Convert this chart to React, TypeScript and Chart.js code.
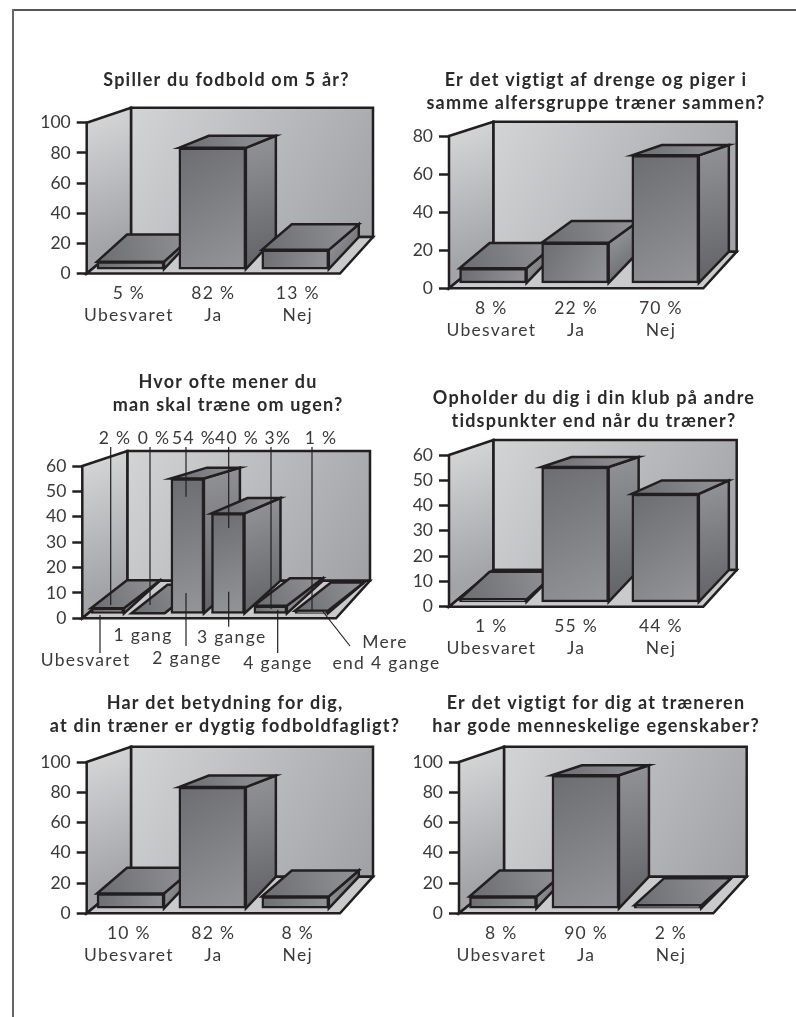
import React, { useEffect, useRef } from "react";
import { Chart, registerables } from "chart.js";

Chart.register(...registerables);

// ---------- data ----------
const threeCategories = ["Ubesvaret", "Ja", "Nej"];
const trainingCategories = ["Ubesvaret", "1 gang", "2 gange", "3 gange", "4 gange", "Mere end 4 gange"];

const footballValues = [5, 82, 13];
const footballPercents = ["5 %", "82 %", "13 %"];
const mixedValues = [8, 22, 70];
const mixedPercents = ["8 %", "22 %", "70 %"];
const trainingValues = [2, 0, 54, 40, 3, 1];
const trainingPercents = ["2 %", "0 %", "54 %", "40 %", "3%", "1 %"];
const clubValues = [1, 55, 44];
const clubPercents = ["1 %", "55 %", "44 %"];
const skillValues = [10, 82, 8];
const skillPercents = ["10 %", "82 %", "8 %"];
const humanValues = [8, 90, 2];
const humanPercents = ["8 %", "90 %", "2 %"];

const title1 = ["Spiller du fodbold om 5 år?"];
const title2 = ["Er det vigtigt af drenge og piger i", "samme alfersgruppe træner sammen?"];
const title3 = ["Hvor ofte mener du", "man skal træne om ugen?"];
const title4 = ["Opholder du dig i din klub på andre", "tidspunkter end når du træner?"];
const title5 = ["Har det betydning for dig,", "at din træner er dygtig fodboldfagligt?"];
const title6 = ["Er det vigtigt for dig at træneren", "har gode menneskelige egenskaber?"];

// ---------- style ----------
const INK = "#231f20";
const TEXT = "#3a3a3c";
const LABEL_FONT = { family: "Lato", size: 17.5, weight: "400" as const, lineHeight: "22px" };
const LABEL_SPACING = "1.3px";
const TITLE_SPACING = "1.2px";
const LINE = 2.5;

type Spec = {
  title: string[]; categories: string[]; values: number[]; percents: string[];
  left: number; width: number; top: number; bottom: number; titleTop: number;
  L: number; floorRight: number; backX: number; backRight: number;
  axisTop: number; zero: number; backTop: number; backBottom: number;
  yMax: number; yStep: number; barsMin: number; barsMax: number;
  barWidth: number; depth: number; nudge: number[]; labelPad: number; callouts?: boolean;
};

const specs: Spec[] = [
  { title: title1, categories: threeCategories, values: footballValues, percents: footballPercents,
    left: 14, width: 425, top: 50, bottom: 350, titleTop: 68.5,
    L: 86.7, floorRight: 340, backX: 131, backRight: 373, axisTop: 122.7, zero: 273.5, backTop: 107.7, backBottom: 237,
    yMax: 100, yStep: 20, barsMin: -3, barsMax: 99, barWidth: 67, depth: 30, nudge: [1.6, -1, -2.5], labelPad: 9 },
  { title: title2, categories: threeCategories, values: mixedValues, percents: mixedPercents,
    left: 396, width: 400, top: 50, bottom: 350, titleTop: 68.5,
    L: 449, floorRight: 703.3, backX: 493.3, backRight: 736.7, axisTop: 136, zero: 288.3, backTop: 121.7, backBottom: 251.7,
    yMax: 80, yStep: 20, barsMin: -3, barsMax: 80.6, barWidth: 67, depth: 30, nudge: [1.7, -1, 4.4], labelPad: 9 },
  { title: title3, categories: trainingCategories, values: trainingValues, percents: trainingPercents,
    left: 14, width: 428, top: 360, bottom: 690, titleTop: 370.5,
    L: 82.3, floorRight: 336, backX: 127.3, backRight: 370, axisTop: 466, zero: 618.3, backTop: 451, backBottom: 580.7,
    yMax: 60, yStep: 10, barsMin: -2, barsMax: 59, barWidth: 33, depth: 36, nudge: [4, 2.3, -0.6, -2.3, -2.2, -3.4], labelPad: 9, callouts: true },
  { title: title4, categories: threeCategories, values: clubValues, percents: clubPercents,
    left: 396, width: 396, top: 370, bottom: 670, titleTop: 386.5,
    L: 449, floorRight: 703.3, backX: 493.3, backRight: 736.7, axisTop: 455, zero: 606.7, backTop: 440, backBottom: 570,
    yMax: 60, yStep: 10, barsMin: -2, barsMax: 59.9, barWidth: 67, depth: 30, nudge: [1.7, -1, 4.4], labelPad: 9 },
  { title: title5, categories: threeCategories, values: skillValues, percents: skillPercents,
    left: 14, width: 422, top: 680, bottom: 985, titleTop: 691.5,
    L: 86.7, floorRight: 340, backX: 131, backRight: 373, axisTop: 762, zero: 913.3, backTop: 746.7, backBottom: 876.7,
    yMax: 100, yStep: 20, barsMin: -3.4, barsMax: 99, barWidth: 67, depth: 30, nudge: [1.6, -1, -2.5], labelPad: 9 },
  { title: title6, categories: threeCategories, values: humanValues, percents: humanPercents,
    left: 396, width: 400, top: 680, bottom: 985, titleTop: 691.5,
    L: 459, floorRight: 713.3, backX: 504, backRight: 746.7, axisTop: 762, zero: 913.3, backTop: 746.7, backBottom: 876.7,
    yMax: 100, yStep: 20, barsMin: -3.4, barsMax: 99, barWidth: 67, depth: 30, nudge: [1.6, -0.7, -3.2], labelPad: 9 },
];

// Callout layout of the training chart, in page pixels
const calloutTopY = 438;
const calloutTopX = [115, 154, 194, 237, 278, 321];
const leaderSegments: number[][] = [
  [110.7, 447, 110.7, 605], [150, 447, 150, 605],
  [186, 447, 186, 496.7], [186, 593, 186, 646],
  [228.7, 447, 228.7, 528], [228.7, 591.7, 228.7, 626.7],
  [271, 447, 271, 609], [312, 447, 312, 610],
  [100, 615, 100, 653], [277.7, 610, 277.7, 653],
  [321.7, 610, 350, 646],
];
const bottomLabels: [string, number, number][] = [
  ["Ubesvaret", 85.7, 660], ["1 gang", 143, 635], ["2 gange", 187, 658],
  ["3 gange", 231.7, 637], ["4 gange", 278, 663], ["Mere", 385, 642], ["end 4 gange", 386.5, 663],
];

function poly(ctx: CanvasRenderingContext2D, pts: number[][]) {
  ctx.beginPath();
  pts.forEach((p, i) => (i ? ctx.lineTo(p[0], p[1]) : ctx.moveTo(p[0], p[1])));
  ctx.closePath();
}
function grad(ctx: CanvasRenderingContext2D, x0: number, y0: number, x1: number, y1: number, a: string, b: string) {
  const g = ctx.createLinearGradient(x0, y0, x1, y1);
  g.addColorStop(0, a);
  g.addColorStop(1, b);
  return g;
}

function makePlugin(s: Spec) {
  return {
    id: "threeD",
    beforeDraw(chart: any) {
      chart.ctx.letterSpacing = LABEL_SPACING;
    },
    afterLayout(chart: any) {
      const tb = chart.titleBlock;
      const ctx = chart.ctx;
      tb.left = 0;
      tb.right = chart.width;
      if (!tb.__wrapped) {
        tb.__wrapped = true;
        const orig = tb.draw;
        tb.draw = function () {
          ctx.letterSpacing = TITLE_SPACING;
          orig.call(this);
          ctx.letterSpacing = LABEL_SPACING;
        };
      }
      const y = chart.scales.y;
      if (!y.__wrapped) {
        y.__wrapped = true;
        const origLabels = y.drawLabels;
        y.drawLabels = function (area: any) {
          ctx.letterSpacing = "0px";
          origLabels.call(this, area);
          ctx.letterSpacing = LABEL_SPACING;
        };
      }
    },
    afterDatasetsUpdate(chart: any) {
      const ctx = chart.ctx;
      chart.getDatasetMeta(0).data.forEach((el: any, i: number) => {
        el.x += s.nudge[i];
        const l = el.x - el.width / 2;
        const fill = grad(ctx, l, el.y, l + el.width, Math.max(el.base, el.y + 1), "#6c6d70", "#949599");
        el.options = Object.assign({}, el.options, { backgroundColor: fill });
      });
    },
    beforeDatasetsDraw(chart: any) {
      const ctx = chart.ctx as CanvasRenderingContext2D;
      const ox = s.left;
      const oy = s.top;
      const X = (v: number) => v - ox;
      const Y = (v: number) => v - oy;
      ctx.save();
      ctx.letterSpacing = "0px";
      ctx.lineJoin = "miter";
      ctx.strokeStyle = INK;
      ctx.lineWidth = LINE;
      // back wall
      poly(ctx, [[X(s.backX), Y(s.backTop)], [X(s.backRight), Y(s.backTop)], [X(s.backRight), Y(s.backBottom)], [X(s.backX), Y(s.backBottom)]]);
      ctx.fillStyle = grad(ctx, X(s.backX), Y(s.backTop), X(s.backRight), Y(s.backBottom), "#d3d4d6", "#a0a1a4");
      ctx.fill();
      ctx.stroke();
      // side wall
      poly(ctx, [[X(s.L), Y(s.axisTop)], [X(s.backX), Y(s.backTop)], [X(s.backX), Y(s.backBottom)], [X(s.L), Y(s.zero)]]);
      ctx.fillStyle = grad(ctx, X(s.L), Y(s.axisTop), X(s.backX), Y(s.backBottom), "#d3d4d6", "#a3a4a7");
      ctx.fill();
      ctx.stroke();
      // floor
      poly(ctx, [[X(s.L), Y(s.zero)], [X(s.backX), Y(s.backBottom)], [X(s.backRight), Y(s.backBottom)], [X(s.floorRight), Y(s.zero)]]);
      ctx.fillStyle = "#c9cacc";
      ctx.fill();
      ctx.stroke();
      // top and side faces of the bars, left to right
      const base = chart.scales.bars.getPixelForValue(0);
      const backY = (y: number) => Y(s.backBottom) + 4 - (base - y) * 0.868;
      chart.getDatasetMeta(0).data.forEach((el: any) => {
        const l = el.x - el.width / 2;
        const r = el.x + el.width / 2;
        const t = el.y;
        const tb = backY(t);
        const bb = Math.max(tb, Y(s.backBottom));
        poly(ctx, [[r, t], [r + s.depth, tb], [r + s.depth, bb], [r, base]]);
        ctx.fillStyle = grad(ctx, r, t, r + s.depth, Math.max(base, t + 1), "#8f9093", "#606164");
        ctx.fill();
        ctx.stroke();
        poly(ctx, [[l, t], [l + s.depth, tb], [r + s.depth, tb], [r, t]]);
        ctx.fillStyle = grad(ctx, l, t, r + s.depth, tb, "#6c6d70", "#929396");
        ctx.fill();
        ctx.stroke();
      });
      ctx.restore();
    },
    afterDatasetsDraw(chart: any) {
      if (!s.callouts) return;
      const ctx = chart.ctx as CanvasRenderingContext2D;
      const ox = s.left;
      const oy = s.top;
      ctx.save();
      ctx.strokeStyle = INK;
      ctx.lineWidth = 1.2;
      leaderSegments.forEach(([a, b, c, d]) => {
        ctx.beginPath();
        ctx.moveTo(a - ox, b - oy);
        ctx.lineTo(c - ox, d - oy);
        ctx.stroke();
      });
      ctx.fillStyle = TEXT;
      ctx.font = `${LABEL_FONT.weight} ${LABEL_FONT.size}px ${LABEL_FONT.family}`;
      ctx.letterSpacing = LABEL_SPACING;
      ctx.textAlign = "center";
      ctx.textBaseline = "middle";
      s.percents.forEach((p, i) => ctx.fillText(p, calloutTopX[i] - ox, calloutTopY - oy));
      bottomLabels.forEach(([t, x, y]) => ctx.fillText(t, x - ox, y - oy));
      ctx.restore();
    },
  };
}

function ChartPanel({ spec }: { spec: Spec }) {
  const ref = useRef<HTMLCanvasElement>(null);
  useEffect(() => {
    const s = spec;
    const lh = 23;
    const xHeight = s.bottom - s.zero;
    const chart = new Chart(ref.current!, {
      type: "bar",
      data: {
        labels: s.categories.map((c, i) => [s.percents[i], c]),
        datasets: [{
          data: s.values,
          yAxisID: "bars",
          barThickness: s.barWidth,
          borderColor: INK,
          borderWidth: LINE,
          borderSkipped: false,
          backgroundColor: "#808184",
        }],
      },
      options: {
        responsive: false,
        animation: false,
        devicePixelRatio: 1,
        layout: { padding: { left: s.L - s.left - 60, right: s.left + s.width - s.floorRight, top: 0, bottom: 0 } },
        plugins: {
          legend: { display: false },
          tooltip: { enabled: false },
          title: {
            display: true,
            text: s.title,
            color: "#2b2a2b",
            font: { family: "Lato", size: 18, weight: "bold", lineHeight: `${lh}px` },
            padding: {
              top: s.titleTop - s.top,
              bottom: s.axisTop - s.titleTop - s.title.length * lh,
            },
          },
        },
        scales: {
          x: {
            type: "category",
            grid: { display: false, drawTicks: false },
            border: { display: false },
            afterFit: (sc: any) => { sc.height = xHeight; },
            ticks: {
              display: !s.callouts,
              color: TEXT,
              font: LABEL_FONT,
              padding: s.labelPad,
              autoSkip: false,
              maxRotation: 0,
              minRotation: 0,
            },
          },
          y: {
            type: "linear",
            position: "left",
            min: 0,
            max: s.yMax,
            afterFit: (sc: any) => { sc.width = 60; },
            grid: { display: true, drawOnChartArea: false, drawTicks: true, tickLength: 10, tickColor: INK, tickWidth: 2.5 },
            border: { display: false },
            ticks: { stepSize: s.yStep, color: TEXT, font: { ...LABEL_FONT, size: 17.5 }, padding: 6 },
          },
          bars: { type: "linear", display: false, min: s.barsMin, max: s.barsMax },
        },
      } as any,
      plugins: [makePlugin(s) as any],
    });
    return () => chart.destroy();
  }, [spec]);
  return (
    <canvas
      ref={ref}
      width={spec.width}
      height={spec.bottom - spec.top}
      style={{ position: "absolute", left: spec.left, top: spec.top }}
    />
  );
}

export default function App() {
  return (
    <div style={{ position: "absolute", left: 0, top: 0, width: 796, height: 1017, background: "#fff", overflow: "hidden" }}>
      <div style={{ position: "absolute", left: 13, top: 9, right: 0, height: 2, background: "#555" }} />
      <div style={{ position: "absolute", left: 12, top: 9, bottom: 0, width: 2, background: "#666" }} />
      {specs.map((s, i) => <ChartPanel key={i} spec={s} />)}
    </div>
  );
}
